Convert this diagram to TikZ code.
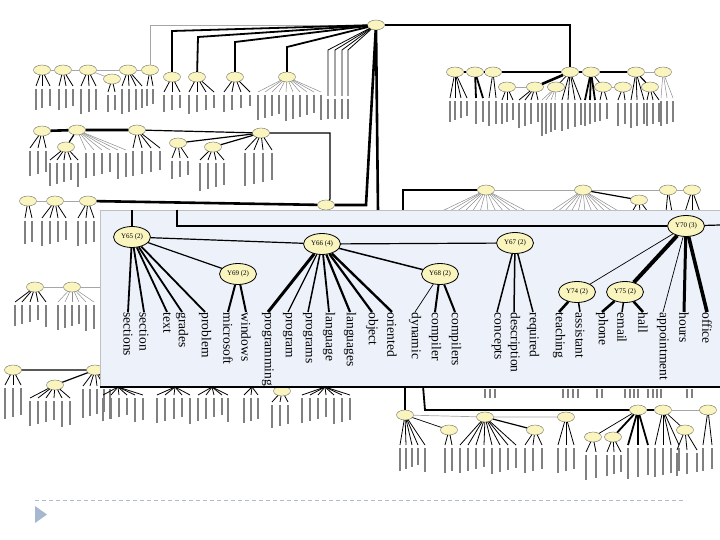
\documentclass[tikz,border=0pt]{standalone}
\usepackage{fontspec}
\setmainfont{Liberation Serif}
\usetikzlibrary{shapes.geometric}

\definecolor{nodefill}{RGB}{250,245,190}
\definecolor{insetfill}{RGB}{237,241,250}
\definecolor{dashcol}{RGB}{175,188,206}
\definecolor{tricol}{RGB}{165,184,207}

\tikzset{
  bg/.style={draw=black!70, ellipse, fill=nodefill, line width=0.3pt, minimum width=17pt, minimum height=10pt, inner sep=0pt},
  big/.style={draw, ellipse, fill=nodefill, line width=0.8pt, minimum width=37pt, minimum height=21pt, inner sep=0pt, font=\fontsize{7}{8}\selectfont},
  leaf/.style={rotate=-90, anchor=west, inner sep=0.5pt, font=\fontsize{13.5}{14}\selectfont},
  lbl/.style={line width=1.1pt, black!50},
  fanline/.style={line width=0.8pt},
  fanthick/.style={line width=1.8pt},
  fangray/.style={line width=0.5pt, black!45},
  e/.style={line width=1.2pt},
  ethick/.style={line width=2.6pt},
  ethin/.style={line width=0.7pt},
  egray/.style={line width=0.7pt, black!35},
}

% parent, leaf end y, leaf x list, label length
\newcommand\fan[5][fanline]{%
  \foreach \lx [count=\k] in {#4} {%
    \coordinate (#2-\k) at (\lx,#3);
    \draw[#1] (#2) -- (#2-\k);
    \draw[lbl] (#2-\k) ++(0,3) -- ++(0,{#5+mod(\k*7,9)-4});
  }%
}
\newcommand\fanbare[4][fangray]{%
  \foreach \lx [count=\k] in {#4} {%
    \coordinate (#2-\k) at (\lx,#3);
    \draw[#1] (#2) -- (#2-\k);
  }%
}

\begin{document}
\begin{tikzpicture}[x=1pt, y=-1pt]
  \useasboundingbox (0,0) rectangle (720,540);

  % ---- background tree ----
  \node[bg] (R) at (376,25) {};

  % top-left rows
  \node[bg] (a1) at (42,70) {};
  \node[bg] (a2) at (63,70) {};
  \node[bg] (a3) at (88,70) {};
  \node[bg] (a3b) at (112,79) {};
  \node[bg] (a4) at (128,70) {};
  \node[bg] (a5) at (150,70) {};
  \node[bg] (b1) at (172,77) {};
  \node[bg] (b2) at (197,77) {};
  \node[bg] (b3) at (235,77) {};
  \node[bg] (b4) at (287,77) {};

  \node[bg] (c1) at (42,131) {};
  \node[bg] (c2) at (77,130) {};
  \node[bg] (c2b) at (66,147) {};
  \node[bg] (c3) at (137,130) {};
  \node[bg] (c4) at (261,133) {};
  \node[bg] (c4a) at (178,143) {};
  \node[bg] (c4b) at (213,147) {};

  \node[bg] (d1) at (28,201) {};
  \node[bg] (d2) at (55,201) {};
  \node[bg] (d3) at (88,201) {};
  \node[bg] (N) at (326,205) {};

  \node[bg] (e1) at (35,287) {};
  \node[bg] (e2) at (72,287) {};

  \node[bg] (f1) at (13,370) {};
  \node[bg] (f2) at (95,370) {};
  \node[bg] (f3) at (55,385) {};

  % top-right row
  \node[bg] (i1) at (455,72) {};
  \node[bg] (i2) at (475,72) {};
  \node[bg] (i3) at (493,72) {};
  \node[bg] (i4) at (570,72) {};
  \node[bg] (i4b) at (507,87) {};
  \node[bg] (i4a) at (535,87) {};
  \node[bg] (i4c) at (556,87) {};
  \node[bg] (i5) at (591,72) {};
  \node[bg] (i5a) at (603,87) {};
  \node[bg] (i5b) at (623,87) {};
  \node[bg] (i6) at (636,72) {};
  \node[bg] (i6a) at (650,87) {};
  \node[bg] (i7) at (663,72) {};

  \node[bg] (j1) at (486,190) {};
  \node[bg] (j2) at (583,190) {};
  \node[bg] (j3) at (639,200) {};
  \node[bg] (j4) at (668,190) {};
  \node[bg] (j5) at (692,190) {};

  % bottom-right row
  \node[bg] (g1) at (405,415) {};
  \node[bg] (g1b) at (449,430) {};
  \node[bg] (g2) at (485,417) {};
  \node[bg] (g2b) at (535,430) {};
  \node[bg] (g3) at (566,417) {};
  \node[bg] (h1) at (638,410) {};
  \node[bg] (h1a) at (593,437) {};
  \node[bg] (h1b) at (613,437) {};
  \node[bg] (h2) at (663,410) {};
  \node[bg] (h2b) at (685,430) {};
  \node[bg] (h3) at (708,410) {};
  \node[bg] (k1) at (282,391) {};

  % root links
  \coordinate (ra5) at (150,25);
  \coordinate (rb1) at (172,31);
  \coordinate (rb2) at (198,37);
  \coordinate (rb3) at (235,42);
  \coordinate (rb4) at (287,47);
  \coordinate (rN) at (366,205);
  \coordinate (rD) at (378,212);
  \coordinate (ri4) at (570,25);
  \draw[egray] (R) -- (ra5) -- (a5);
  \draw[fanthick] (R) -- (rb1) -- (b1);
  \draw[fanthick] (R) -- (rb2) -- (b2);
  \draw[fanthick] (R) -- (rb3) -- (b3);
  \draw[fanthick] (R) -- (rb4) -- (b4);
  \draw[ethick] (R) -- (rN) -- (N);
  \draw[ethick] (R) -- (rD);
  \draw[e] (R) -- (ri4) -- (i4);
  \foreach \lx [count=\k] in {328,335,342,348} {
    \coordinate (rt-\k) at (\lx,50);
    \coordinate (rl-\k) at (\lx,96);
    \draw[fanline] (R) -- (rt-\k) -- (rl-\k);
    \draw[lbl] (rl-\k) ++(0,3) -- ++(0,20);
  }

  % row links
  \draw[egray] (a1) -- (a2) -- (a3) -- (a4) -- (a5);
  \draw[egray] (a3) -- (a3b);
  \draw[ethick] (c1) -- (c2) -- (c3);
  \draw[e] (c3) -- (c4);
  \draw[e] (c2) -- (c2b);
  \draw[e] (c4) -- (c4a);
  \draw[e] (c4) -- (c4b);
  \coordinate (cN1) at (330,133);
  \coordinate (cN2) at (330,199);
  \draw[e] (c4) -- (cN1) -- (cN2) -- (N);
  \draw[egray] (d1) -- (d2) -- (d3);
  \draw[ethick] (d3) -- (N);
  \coordinate (e2r) at (100,287);
  \draw[egray] (e1) -- (e2) -- (e2r);
  \draw[e] (f1) -- (f2) -- (f3);

  \draw[fanthick] (i1) -- (i2) -- (i3) -- (i4);
  \draw[ethick] (i4) -- (i5);
  \draw[e] (i5) -- (i6);
  \draw[egray] (i6) -- (i7);
  \draw[ethick] (i4) -- (i4a);
  \draw[egray] (i4a) -- (i4b);
  \draw[ethin] (i4) -- (i4c);
  \draw[ethin] (i5) -- (i5a);
  \draw[egray] (i5a) -- (i5b);
  \draw[e] (i6) -- (i6a);

  \coordinate (j0) at (403,190);
  \coordinate (j0b) at (403,212);
  \draw[e] (j0b) -- (j0) -- (j1);
  \draw[egray] (j1) -- (j2);
  \draw[e] (j2) -- (j3);
  \draw[egray] (j2) -- (j4) -- (j5);

  \coordinate (g0) at (405,386);
  \draw[e] (g0) -- (g1);
  \draw[egray] (g1) -- (g2) -- (g3);
  \draw[ethin] (g1) -- (g1b);
  \draw[e] (g2) -- (g2b);
  \coordinate (h0a) at (423,386);
  \coordinate (h0b) at (425,410);
  \draw[fanthick] (h0a) -- (h0b) -- (h1);
  \draw[e] (h1) -- (h2);
  \draw[egray] (h2) -- (h3);
  \draw[ethin] (h2) -- (h2b);
  \draw[ethin] (h1) -- (h1a);
  \draw[fanthick] (h1) -- (h1b);

  % leaf fans
  \fan{a1}{86}{36,42,50}{18}
  \fan{a2}{86}{59,66,73}{18}
  \fan{a3}{86}{81,89,96}{22}
  \fan{a3b}{92}{108,115}{14}
  \fan{a4}{86}{122,129,136,142}{22}
  \fan{a5}{86}{147,153}{14}
  \fan{b1}{92}{164,172,180}{14}
  \fan{b2}{92}{189,197,206,214}{16}
  \fan{b3}{92}{224,232,241,250}{14}
  \fan[fangray]{b4}{92}{258,265,272,279,286,293,300,307,314,321}{22}
  \fan{c1}{148}{30,38,46}{22}
  \fan{c2b}{160}{50,57,64,71,78}{20}
  \fan[fangray]{c2}{150}{86,94,102,110,118,126}{22}
  \fan{c3}{148}{133,142,151,160}{22}
  \fan{c4a}{158}{172,180,188}{15}
  \fan{c4b}{160}{200,208,216,224}{25}
  \fan{c4}{150}{245,254,263,272}{30}
  \fan{d1}{218}{25,32}{20}
  \fan{d2}{218}{42,50,58,66}{22}
  \fan{d3}{218}{78,86,94}{22}
  \fan{e1}{302}{15,22,30,38,46}{18}
  \fan[fangray]{e2}{302}{58,65,72,79,86,94}{22}
  \fan{f1}{385}{5,13,21}{28}
  \fan{f2}{386}{83,90,97,104,110}{26}
  \fan{f3}{398}{30,38,46,54,62,70}{22}
  \fan{i1}{98}{450,455,461,467}{18}
  \fan[fanthick]{i2}{98}{476,483}{20}
  \fan{i3}{98}{489,496}{22}
  \fan{i4b}{100}{502,507,513}{18}
  \fan{i4a}{100}{519,525,531,538}{22}
  \fan[fangray]{i4c}{100}{542,546,551,555}{30}
  \fan{i4}{100}{562,568,575,581}{25}
  \fan[fanthick]{i5}{100}{585,590,595}{20}
  \fan{i5a}{100}{600,607}{15}
  \fan{i5b}{100}{618,625}{20}
  \fan{i6}{100}{631,637,644}{22}
  \fan{i6a}{100}{647,653,659}{20}
  \fan[fangray]{i7}{98}{661,667,673}{22}
  \fanbare{j1}{212}{440,448,456,464,472,480,488,496,504,512,520,528}
  \fanbare{j2}{212}{550,557,564,571,578,585,592,599,606,613,620}
  \fanbare[fanline]{j3}{212}{632,640,648}
  \fanbare[fanline]{j4}{212}{666,672}
  \fanbare[fanline]{j5}{212}{685,692,700}
  \fan{g1}{445}{400,406,412,418,425}{20}
  \fan{g1b}{445}{445,452}{22}
  \fan{g2}{445}{460,468,476,484,492,500,508,516}{22}
  \fan{g2b}{445}{525,533,542}{22}
  \fan{g3}{445}{558,566,574}{22}
  \fan{h1a}{452}{586,596}{22}
  \fan{h1b}{452}{607,614,621}{18}
  \fan[fanthick]{h1}{445}{628,638,648}{28}
  \fan{h2}{445}{655,663,671,679}{26}
  \fan{h2b}{450}{677,687,697}{20}
  \fan{h3}{445}{703,712}{20}
  \fan{k1}{402}{272,280,288}{20}

  % leaves coming out below the inset
  \coordinate (s1) at (118,387);
  \coordinate (s2) at (175,387);
  \coordinate (s3) at (212,387);
  \coordinate (s4) at (252,387);
  \coordinate (s6) at (325,387);
  \fan{s1}{395}{103,111,119,127,135,143}{20}
  \fan{s2}{395}{157,165,174,182,190}{22}
  \fan{s3}{395}{198,206,214,222,228}{20}
  \fan{s4}{395}{244,251,258}{22}
  \fan{s6}{395}{302,310,318,326,334,342,350}{22}
  \foreach \lx in {485,490,495,563,568,573,578,597,602,625,630,634,638,648,653,657,661,687,692}
    \draw[lbl] (\lx,389) -- ++(0,9);

  % ---- zoomed inset ----
  \fill[insetfill] (100,210) rectangle (720,387);
  \draw[black!25, line width=0.5pt] (720,210) -- (100,210) -- (100,387);
  \draw[line width=1.3pt] (100,387) -- (720,387);

  \node[big] (Y65) at (132,237) {Y65 (2)};
  \node[big] (Y66) at (322,244) {Y66 (4)};
  \node[big] (Y69) at (238,274) {Y69 (2)};
  \node[big] (Y68) at (440,274) {Y68 (2)};
  \node[big] (Y67) at (515,243) {Y67 (2)};
  \node[big] (Y70) at (686,226) {Y70 (3)};
  \node[big] (Y74) at (577,292) {Y74 (2)};
  \node[big] (Y75) at (625,292) {Y75 (2)};

  \node[leaf] (sections) at (128,312) {sections};
  \node[leaf] (section) at (144,312) {section};
  \node[leaf] (text) at (167,312) {text};
  \node[leaf] (grades) at (182,312) {grades};
  \node[leaf] (problem) at (205,312) {problem};
  \node[leaf] (microsoft) at (228,312) {microsoft};
  \node[leaf] (windows) at (246,312) {windows};
  \node[leaf] (programming) at (268,312) {programming};
  \node[leaf] (program) at (288,312) {program};
  \node[leaf] (programs) at (308,312) {programs};
  \node[leaf] (language) at (329,312) {language};
  \node[leaf] (languages) at (350,312) {languages};
  \node[leaf] (object) at (372,312) {object};
  \node[leaf] (oriented) at (392,312) {oriented};
  \node[leaf] (dynamic) at (415,312) {dynamic};
  \node[leaf] (compiler) at (435,312) {compiler};
  \node[leaf] (compilers) at (455,312) {compilers};
  \node[leaf] (concepts) at (497,312) {concepts};
  \node[leaf] (description) at (514,312) {description};
  \node[leaf] (required) at (533,312) {required};
  \node[leaf] (teaching) at (559,312) {teaching};
  \node[leaf] (assistant) at (580,312) {assistant};
  \node[leaf] (phone) at (602,312) {phone};
  \node[leaf] (email) at (622,312) {email};
  \node[leaf] (hall) at (643,312) {hall};
  \node[leaf] (appointment) at (663,312) {appointment};
  \node[leaf] (hours) at (684,312) {hours};
  \node[leaf] (office) at (707,312) {office};

  \coordinate (t65) at (132,210);
  \coordinate (t70) at (177,210);
  \coordinate (r70) at (720,225);
  \draw[e] (t65) -- (Y65);
  \draw[ethick] (t70) |- (Y70);
  \draw[e] (Y70) -- (r70);
  \draw[e] (Y65) -- (Y66);
  \draw[e] (Y65) -- (Y69);
  \draw[e] (Y66) -- (Y67);
  \draw[line width=1.5pt] (Y66) -- (Y68);
  \draw[ethin] (Y70) -- (Y74);
  \draw[line width=4pt] (Y70) -- (Y75);

  \foreach \n in {sections,section,text,grades,problem}
    \draw[line width=1.8pt] (Y65) -- (\n.west);
  \foreach \n in {microsoft,windows}
    \draw[line width=2pt] (Y69) -- (\n.west);
  \draw[line width=3pt] (Y66) -- (programming.west);
  \foreach \n/\w in {program/1.3,programs/1.5,language/1.8,languages/2.2,object/2.2,oriented/2.4}
    \draw[line width=\w pt] (Y66) -- (\n.west);
  \draw[ethin] (Y68) -- (dynamic.west);
  \foreach \n in {compiler,compilers}
    \draw[line width=2pt] (Y68) -- (\n.west);
  \foreach \n in {concepts,description,required}
    \draw[line width=1.5pt] (Y67) -- (\n.west);
  \draw[line width=2.6pt] (Y74) -- (teaching.west);
  \draw[line width=1.5pt] (Y74) -- (assistant.west);
  \draw[line width=2.6pt] (Y75) -- (phone.west);
  \draw[line width=1.5pt] (Y75) -- (email.west);
  \draw[line width=2.6pt] (Y75) -- (hall.west);
  \draw[ethin] (Y70) -- (appointment.west);
  \draw[line width=3pt] (Y70) -- (hours.west);
  \draw[line width=3.6pt] (Y70) -- (office.west);

  % ---- slide footer ----
  \coordinate (dl) at (35,500);
  \coordinate (dr) at (686,500);
  \draw[dashcol, line width=1pt, dash pattern=on 4pt off 3pt] (dl) -- (dr);
  \fill[tricol] (35,506) -- (35,523) -- (47,514.5) -- cycle;
\end{tikzpicture}
\end{document}
